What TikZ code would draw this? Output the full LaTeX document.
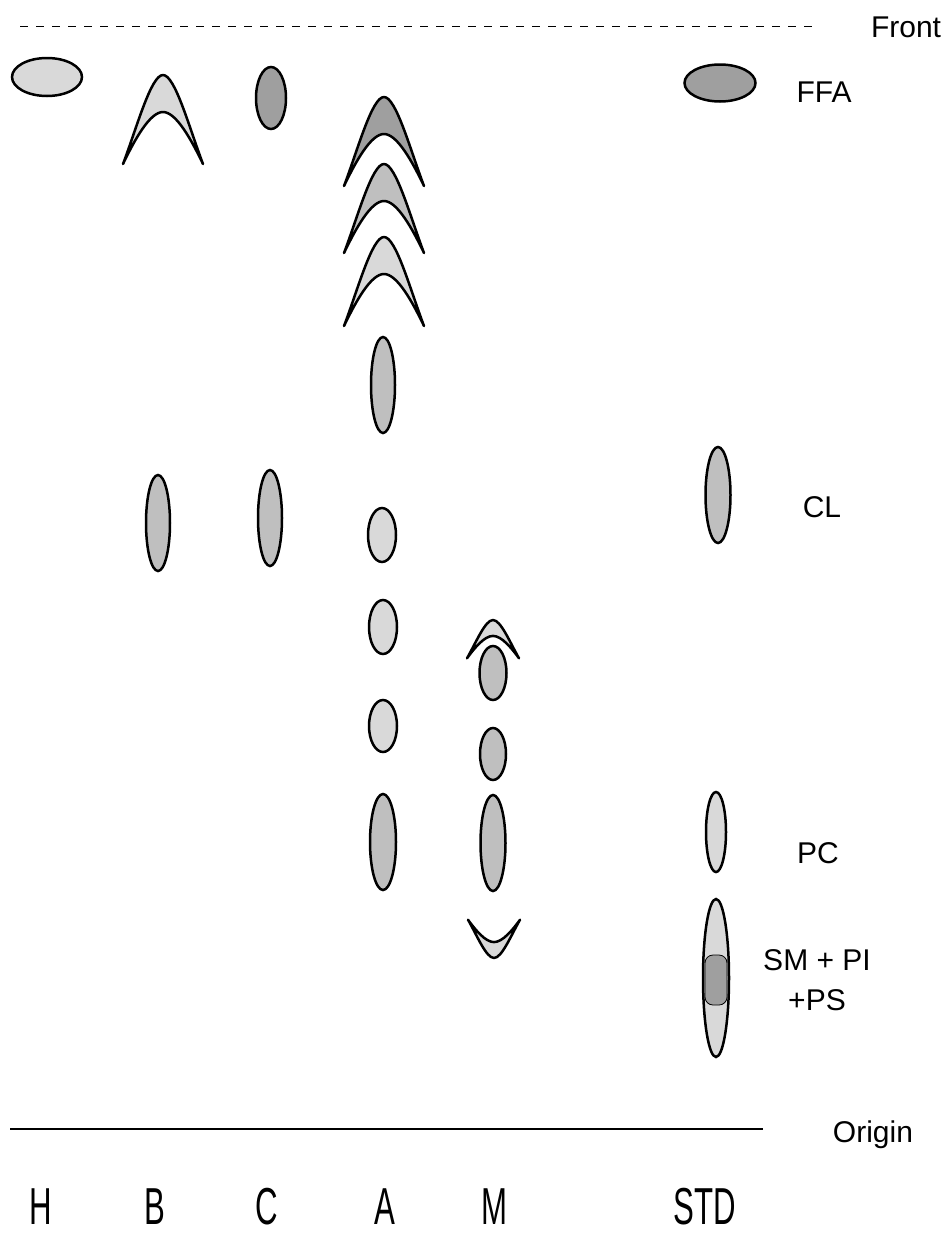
\documentclass[tikz,border=0pt]{standalone}
\usepackage{fontspec}
\setmainfont{Liberation Sans}
\newfontfamily\lanefont[FakeStretch=0.6]{Liberation Sans}
\usetikzlibrary{shapes.geometric}

\tikzset{
    arch/.pic={
        \path[pic actions, line join=round]
            (-40,89) .. controls (-26,52) and (-12,0) .. (0,0)
            .. controls (12,0) and (26,52) .. (40,89)
            .. controls (28,64) and (13,37) .. (0,37)
            .. controls (-13,37) and (-28,64) .. (-40,89) -- cycle;
    }
}

\begin{document}
\begin{tikzpicture}[
        x=1pt, y=-1pt,
        every node/.style={inner sep=0pt},
        spot/.style={draw, ellipse},
        spotpale/.style={draw, line width=2.5pt, fill=gray!30},
        spotmid/.style={draw, line width=2.5pt, fill=gray!50},
        spotdark/.style={draw, line width=2.5pt, fill=gray!75},
        tag/.style={font=\fontsize{30}{40}\selectfont, anchor=base},
        lane/.style={font=\lanefont\fontsize{52}{56}\selectfont, anchor=base}
    ]

        \useasboundingbox (0,0) rectangle (949,1234);

        % front and origin
        \draw[line width=1pt, dash pattern=on 8pt off 8pt] (20,26) -- (815,26);
        \draw[line width=2pt] (10,1129) -- (763,1129);

        % H
        \node[spot, spotpale, minimum width=70pt, minimum height=38pt] (h1) at (47,77) {};

        % B
        \pic[spotpale] (b1) at (163,75) {arch};
        \node[spot, spotmid, minimum width=24pt, minimum height=96pt] (b2) at (158,523) {};

        % C
        \node[spot, spotdark, minimum width=30pt, minimum height=62pt] (c1) at (271,98) {};
        \node[spot, spotmid, minimum width=24pt, minimum height=96pt] (c2) at (270,518) {};

        % A
        \pic[spotdark] (a1) at (384,97) {arch};
        \pic[spotmid] (a2) at (384,164) {arch};
        \pic[spotpale] (a3) at (384,237) {arch};
        \node[spot, spotmid, minimum width=24pt, minimum height=96pt] (a4) at (383,385) {};
        \node[spot, spotpale, minimum width=28pt, minimum height=54pt] (a5) at (382,535) {};
        \node[spot, spotpale, minimum width=28pt, minimum height=54pt] (a6) at (383,627) {};
        \node[spot, spotpale, minimum width=28pt, minimum height=52pt] (a7) at (383,726) {};
        \node[spot, spotmid, minimum width=26pt, minimum height=96pt] (a8) at (383,842) {};

        % M
        \pic[spotpale, xscale=0.65, yscale=0.43] (m1) at (493,620) {arch};
        \node[spot, spotmid, minimum width=27pt, minimum height=54pt] (m2) at (493,673) {};
        \node[spot, spotmid, minimum width=26pt, minimum height=52pt] (m3) at (493,754) {};
        \node[spot, spotmid, minimum width=25pt, minimum height=96pt] (m4) at (493,843) {};
        \pic[spotpale, xscale=0.65, yscale=-0.43] (m5) at (494,958) {arch};

        % STD
        \node[spot, spotdark, minimum width=71pt, minimum height=37pt] (ffa) at (720,83) {};
        \node[spot, spotmid, minimum width=25pt, minimum height=96pt] (cl) at (718,495) {};
        \node[spot, spotpale, minimum width=20pt, minimum height=80pt] (pc) at (716,832) {};
        \node[spot, spotpale, minimum width=26pt, minimum height=158pt] (sm) at (716,978) {};
        \node[draw, line width=0.8pt, fill=gray!75, rounded corners=8pt,
              minimum width=22pt, minimum height=50pt] (smcore) at (716,980) {};

        % labels
        \node[tag] (front) at (906,37) {Front};
        \node[tag] (ffatext) at (824,102) {FFA};
        \node[tag] (cltext) at (822,517) {CL};
        \node[tag] (pctext) at (818,863) {PC};
        \node[font=\fontsize{30}{40}\selectfont, align=center] (smtext) at (817,980) {SM + PI\\+PS};
        \node[tag] (origin) at (873,1142) {Origin};

        % lanes
        \node[lane] (laneh) at (41,1224) {H};
        \node[lane] (laneb) at (155,1224) {B};
        \node[lane] (lanec) at (267,1224) {C};
        \node[lane] (lanea) at (385,1224) {A};
        \node[lane] (lanem) at (494,1224) {M};
        \node[lane] (lanestd) at (705,1224) {STD};

    \end{tikzpicture}
\end{document}
